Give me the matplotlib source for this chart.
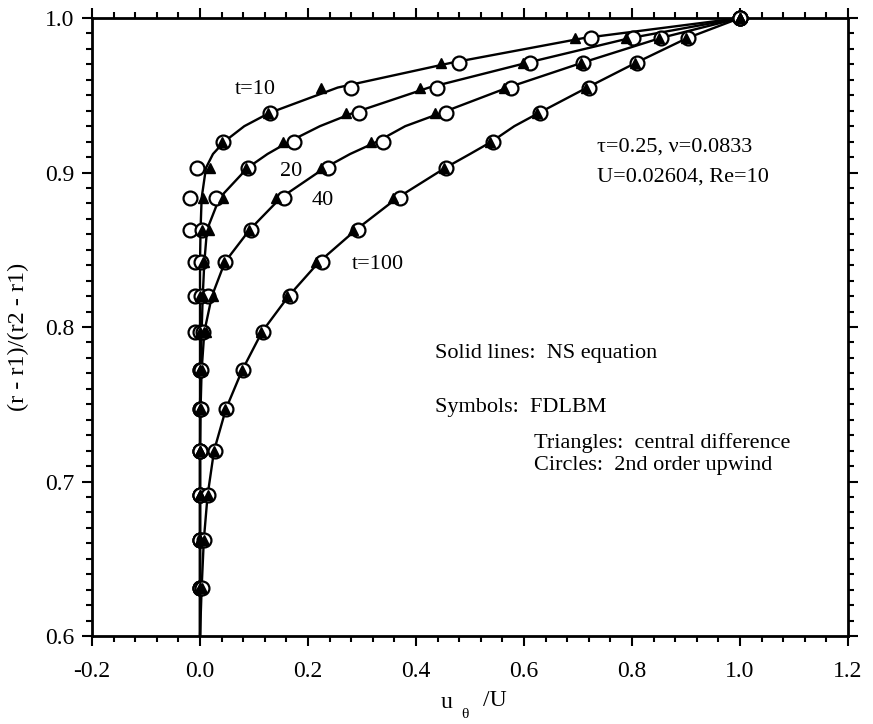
import matplotlib
matplotlib.use("Agg")
import matplotlib.pyplot as plt
from matplotlib.ticker import MultipleLocator

plt.rcParams["font.family"] = ["Liberation Serif", "DejaVu Serif"]

# radial grid rows (r - r1)/(r2 - r1) where symbols sit
rows = [1.0, 0.987, 0.971, 0.955, 0.9385, 0.920, 0.903, 0.8835, 0.863,
        0.842, 0.820, 0.797, 0.772, 0.747, 0.720, 0.691, 0.662, 0.631]

# FDLBM, 2nd order upwind (circles)
circ_t10 = [1.0, 0.724, 0.480, 0.280, 0.130, 0.043, -0.006, -0.019, -0.019,
            -0.010, -0.010, -0.010, 0.0, 0.0, 0.0, 0.0, 0.0, 0.0]
circ_t20 = [1.0, 0.802, 0.611, 0.439, 0.294, 0.174, 0.089, 0.030, 0.004,
            0.002, 0.001, 0.0, 0.0, 0.0, 0.0, 0.0, 0.0, 0.0]
circ_t40 = [1.0, 0.854, 0.709, 0.576, 0.456, 0.339, 0.237, 0.155, 0.095,
            0.047, 0.015, 0.005, 0.002, 0.001, 0.0, 0.0, 0.0, 0.0]
circ_t100 = [1.0, 0.904, 0.809, 0.720, 0.630, 0.543, 0.456, 0.370, 0.293,
             0.225, 0.166, 0.117, 0.080, 0.049, 0.027, 0.015, 0.008, 0.003]

# FDLBM, central difference (triangles)
tri_t10 = [1.0, 0.694, 0.446, 0.224, 0.125, 0.040, 0.018, 0.005, 0.004,
           0.006, 0.0, 0.0, 0.0, 0.0, 0.0, 0.0, 0.0, 0.0]
tri_t20 = [1.0, 0.789, 0.598, 0.407, 0.270, 0.154, 0.085, 0.042, 0.016,
           0.008, 0.005, 0.012, 0.0, 0.0, 0.0, 0.0, 0.0, 0.0]
tri_t40 = [1.0, 0.850, 0.705, 0.563, 0.435, 0.317, 0.224, 0.141, 0.090,
           0.045, 0.024, 0.008, 0.003, 0.001, 0.0, 0.0, 0.0, 0.0]
tri_t100 = [1.0, 0.900, 0.805, 0.714, 0.624, 0.537, 0.451, 0.357, 0.283,
            0.215, 0.162, 0.113, 0.077, 0.047, 0.026, 0.014, 0.007, 0.003]

# NS equation (solid lines)
ns_y = [1.0, 0.987, 0.971, 0.955, 0.9385, 0.930, 0.920, 0.912, 0.903, 0.8835,
        0.863, 0.842, 0.820, 0.797, 0.772, 0.747, 0.720, 0.691, 0.662, 0.631, 0.6]
ns_t10 = [1.0, 0.710, 0.465, 0.255, 0.128, 0.082, 0.045, 0.024, 0.011, 0.003,
          0.001, 0.0, 0.0, 0.0, 0.0, 0.0, 0.0, 0.0, 0.0, 0.0, 0.0]
ns_t20 = [1.0, 0.796, 0.605, 0.424, 0.283, 0.222, 0.165, 0.125, 0.088, 0.036,
          0.013, 0.008, 0.005, 0.003, 0.001, 0.0, 0.0, 0.0, 0.0, 0.0, 0.0]
ns_t40 = [1.0, 0.852, 0.707, 0.570, 0.446, 0.380, 0.328, 0.278, 0.231, 0.149,
          0.092, 0.046, 0.022, 0.008, 0.003, 0.001, 0.0, 0.0, 0.0, 0.0, 0.0]
ns_t100 = [1.0, 0.902, 0.807, 0.717, 0.627, 0.582, 0.540, 0.500, 0.454, 0.365,
           0.289, 0.220, 0.164, 0.115, 0.078, 0.048, 0.026, 0.014, 0.007, 0.003, 0.0]

FS = 16

fig = plt.figure(figsize=(8.73, 7.24), dpi=100)
ax = fig.add_axes([0.1054, 0.1215, 0.8660, 0.8536])

for u in (ns_t10, ns_t20, ns_t40, ns_t100):
    ax.plot(u, ns_y, color="black", lw=1.7, zorder=2)

# circles are white-filled, triangles drawn over them
for u in (circ_t10, circ_t20, circ_t40, circ_t100):
    ax.plot(u, rows, ls="none", marker="o", ms=10, mfc="white", mec="black",
            mew=1.6, clip_on=False, zorder=3)

for u in (tri_t10, tri_t20, tri_t40, tri_t100):
    ax.plot(u, rows, ls="none", marker="^", ms=7.5, mfc="black", mec="black",
            clip_on=False, zorder=4)

ax.set_xlim(-0.2, 1.2)
ax.set_ylim(0.6, 1.0)
ax.xaxis.set_major_locator(MultipleLocator(0.2))
ax.xaxis.set_minor_locator(MultipleLocator(0.04))
ax.yaxis.set_major_locator(MultipleLocator(0.1))
ax.yaxis.set_minor_locator(MultipleLocator(0.01))
ax.set_xticklabels([f"{v:.1f}" for v in ax.get_xticks()])
ax.set_yticklabels([f"{v:.1f}" for v in ax.get_yticks()])
ax.tick_params(which="both", direction="out", top=True, right=True,
               width=1.5, labelsize=17)
ax.tick_params(which="major", length=7, pad=6)
ax.tick_params(axis="x", which="major", pad=11)
ax.tick_params(which="minor", length=4)
for s in ax.spines.values():
    s.set_linewidth(2)

# curve labels
ax.text(0.103, 0.9535, "t=10", fontsize=FS, ha="center", va="center")
ax.text(0.168, 0.9005, "20", fontsize=FS, ha="center", va="center")
ax.text(0.228, 0.882, "40", fontsize=FS, ha="center", va="center")
ax.text(0.33, 0.8405, "t=100", fontsize=FS, ha="center", va="center")

ax.text(0.735, 0.9165, "\u03c4=0.25, \u03bd=0.0833", fontsize=FS, va="center")
ax.text(0.735, 0.897, "U=0.02604, Re=10", fontsize=FS, va="center")
ax.text(0.435, 0.783, "Solid lines:  NS equation", fontsize=FS, va="center")
ax.text(0.435, 0.7476, "Symbols:  FDLBM", fontsize=FS, va="center")
ax.text(0.619, 0.725, "Triangles:  central difference", fontsize=FS, va="center")
ax.text(0.619, 0.7107, "Circles:  2nd order upwind", fontsize=FS, va="center")

# axis labels
fig.text(18 / 873, 1 - 337 / 724, "(r - r1)/(r2 - r1)", fontsize=17.5,
         rotation=90, ha="center", va="center")
fig.text(447 / 873, 1 - 702 / 724, "u", fontsize=17, ha="center", va="center")
fig.text(465 / 873, 1 - 714 / 724, "\u03b8", fontsize=11, ha="center", va="center")
fig.text(495 / 873, 1 - 701 / 724, "/U", fontsize=17, ha="center", va="center")

fig.savefig("out.png", dpi=100)
